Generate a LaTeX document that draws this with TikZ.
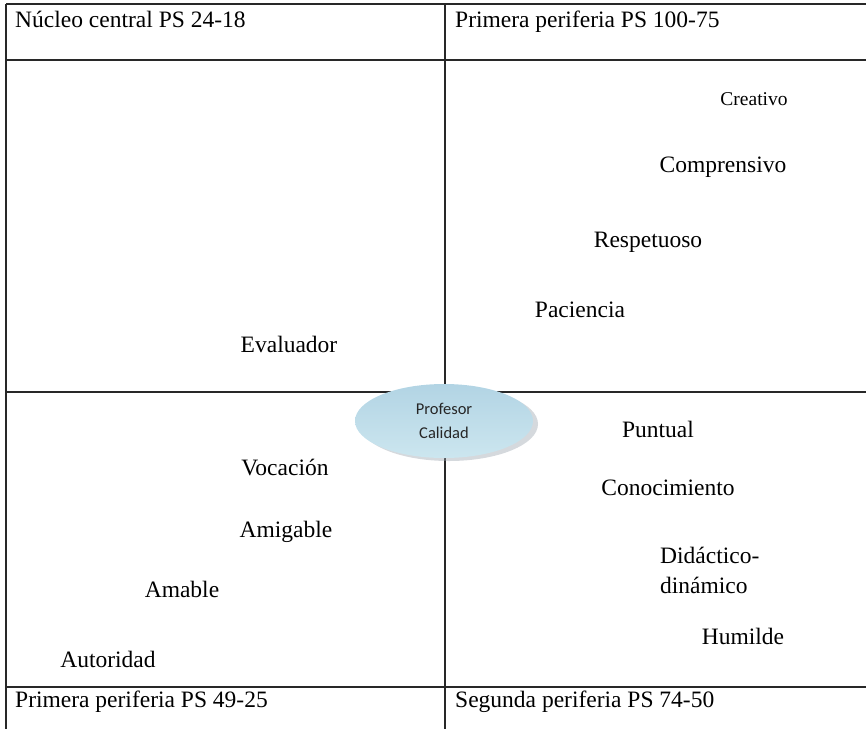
\documentclass[tikz,border=0pt]{standalone}
\usepackage{fontspec}
\setmainfont{Liberation Serif}
\newfontfamily\calfont{Carlito}
\usetikzlibrary{shapes.geometric,shadows}
\definecolor{elltop}{RGB}{178,212,228}
\definecolor{ellbot}{RGB}{204,230,239}
\definecolor{gridc}{RGB}{40,40,40}
\definecolor{shadc}{RGB}{150,160,170}
\begin{document}
\begin{tikzpicture}[x=1pt,y=-1pt,
  lbl/.style={font=\fontsize{23.5}{27}\selectfont, inner sep=0pt, anchor=base},
  hdr/.style={font=\fontsize{23.5}{27}\selectfont, inner sep=0pt, anchor=base west},
  grid/.style={draw=gridc, line width=1.2pt}]
\useasboundingbox (0,0) rectangle (866,729);
% table lines
\coordinate (tl) at (6,4);
\coordinate (tr) at (866,4);
\coordinate (h1l) at (6,60);
\coordinate (h1r) at (866,60);
\coordinate (h2l) at (6,392);
\coordinate (h2r) at (866,392);
\coordinate (h3l) at (6,687);
\coordinate (h3r) at (866,687);
\coordinate (bl) at (6,729);
\coordinate (mt) at (445,4);
\coordinate (mb) at (445,729);
\draw[grid] (tl) -- (tr);
\draw[grid] (h1l) -- (h1r);
\draw[grid] (h2l) -- (h2r);
\draw[grid] (h3l) -- (h3r);
\draw[grid] (tl) -- (bl);
\draw[grid] (mt) -- (mb);
% headers
\node[hdr] (nc) at (15,27) {Núcleo central PS 24-18};
\node[hdr] (pp1) at (455,27) {Primera periferia PS 100-75};
\node[hdr] (pp2) at (15,707) {Primera periferia PS 49-25};
\node[hdr] (sp) at (455,707) {Segunda periferia PS 74-50};
% words
\node[lbl, font=\fontsize{19.5}{23}\selectfont] (creativo) at (754,105) {Creativo};
\node[lbl] (comprensivo) at (723,172) {Comprensivo};
\node[lbl] (respetuoso) at (648,247) {Respetuoso};
\node[lbl] (paciencia) at (580,317) {Paciencia};
\node[lbl] (evaluador) at (289,352) {Evaluador};
\node[lbl] (puntual) at (658,437) {Puntual};
\node[lbl] (vocacion) at (285,475) {Vocación};
\node[lbl] (conocimiento) at (668,495) {Conocimiento};
\node[lbl] (amigable) at (286,537) {Amigable};
\node[hdr] (didactico) at (660,563) {Didáctico-};
\node[hdr] (dinamico) at (660,593) {dinámico};
\node[lbl] (amable) at (182,597) {Amable};
\node[lbl] (humilde) at (743,644) {Humilde};
\node[lbl] (autoridad) at (108,667) {Autoridad};
% central ellipse
\node[ellipse, minimum width=178pt, minimum height=74pt, inner sep=0pt,
  top color=elltop, bottom color=ellbot, draw=none,
  drop shadow={shadow xshift=5pt, shadow yshift=-3pt, opacity=0.4, fill=shadc},
  align=center, text=black!85,
  font=\calfont\fontsize{16.5}{24}\selectfont] (core) at (444,421) {Profesor\\Calidad};
\end{tikzpicture}
\end{document}
